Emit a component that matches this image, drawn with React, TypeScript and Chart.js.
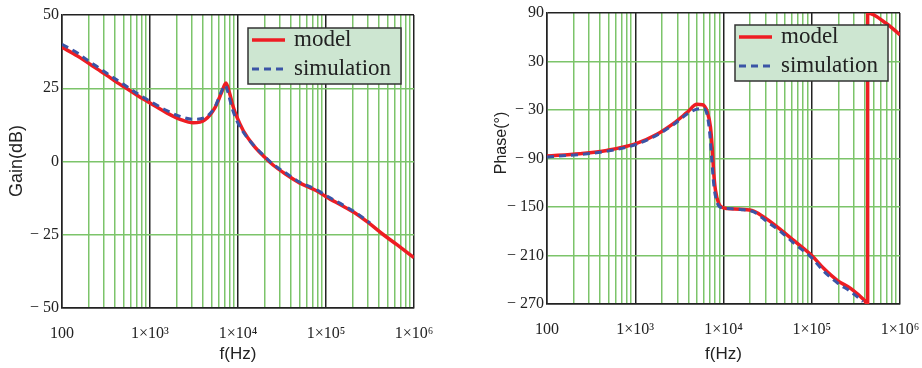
import React, { useEffect, useRef } from "react";
import { Chart, registerables } from "chart.js";
Chart.register(...registerables);

// ---------- data ----------
const gainModelFreq = [100, 150, 190, 250, 320, 420, 545, 750, 1000, 1550, 2200, 3100, 4200, 5500, 6500, 7300, 8000, 8800, 9700, 11500, 15000, 20000, 25000, 36000, 50000, 78000, 100000, 155000, 222000, 316000, 450000, 640000, 1000000];
const gainModelDb = [39, 36, 34, 31.6, 29.5, 27, 24.9, 22.2, 20, 16.6, 14.4, 13.2, 14.2, 18.5, 23.5, 26.8, 23.5, 18.8, 15.2, 10.5, 5.5, 1.5, -1.2, -4.6, -7.3, -10, -12, -15.2, -17.9, -21.3, -25, -28.4, -32.8];

const gainSimFreq = [100, 150, 190, 250, 320, 545, 750, 1000, 1550, 2200, 3100, 4200, 5500, 6500, 7100, 7700, 8500, 9500, 11500, 15000, 20000, 25000, 36000, 50000, 78000, 100000, 155000, 222000, 316000];
const gainSimDb = [40, 37, 34.8, 32.4, 30.2, 25.6, 22.8, 20.6, 17.4, 15.4, 14.4, 15, 18.8, 24, 26, 23.5, 18.5, 14.5, 10, 5.6, 1.8, -0.9, -4.2, -7, -9.6, -11.6, -14.8, -17.6, -21];

const phaseModelFreq = [100, 235, 475, 1000, 1760, 2720, 3870, 5000, 5800, 6530, 7110, 7440, 7760, 8110, 8850, 9930, 11000, 15500, 22000, 31000, 44000, 63000, 100000, 138000, 196000, 278000, 395000, 430000, 430000, 700000, 1000000];
const phaseModelDeg = [-87, -84, -80, -72, -60, -46.5, -33, -23, -23.5, -32, -50.7, -75.5, -108.6, -129.3, -146, -151, -152, -152.8, -155, -165, -177.6, -191.7, -210, -226.5, -241, -251, -265.5, -270, 90, 77, 63];

const phaseSimFreq = [100, 235, 475, 1000, 1760, 2720, 3870, 5000, 5800, 6500, 7000, 7400, 7800, 8500, 9500, 11000, 15500, 22000, 31000, 44000, 63000, 100000, 138000, 196000, 278000, 380000];
const phaseSimDeg = [-88, -85, -81, -73, -61, -48, -35, -29, -28, -35, -60, -95, -125, -145, -151, -152, -153, -156, -168, -180, -195, -213, -230, -244, -255, -267];

const decadeValues = [100, 1000, 10000, 100000, 1000000];
const decadeLabels = ["100", "1×10³", "1×10⁴", "1×10⁵", "1×10⁶"];
const minorMultipliers = [2, 3, 4, 5, 6, 7, 8, 9];

const gainTicks = { min: -50, max: 50, step: 25 };
const phaseTicks = { min: -270, max: 90, step: 60 };

// ---------- styles ----------
const SERIF = '"Liberation Serif", "Times New Roman", serif';
const SANS = '"Liberation Sans", Arial, sans-serif';
const DARK = "#222222";
const GREEN = "#7cc46a";
const RED = "#ee1d23";
const BLUE = "#3b54a6";

const xTickValues: number[] = [];
decadeValues.forEach((d, i) => {
  xTickValues.push(d);
  if (i < decadeValues.length - 1) minorMultipliers.forEach((m) => xTickValues.push(d * m));
});

const pts = (xs: number[], ys: number[]) => xs.map((x, i) => ({ x, y: ys[i] }));
const fmtY = (v: number) => (v < 0 ? "− " + Math.abs(v) : String(v));

type Cfg = {
  width: number;
  height: number;
  padTop: number;
  padRight: number;
  yAxisW: number;
  xAxisH: number;
  yTitle: string;
  yTitleX: number;
  yTitleY: number;
  yTitleSize: number;
  legendDx: number;
  legendDy: number;
  ticks: { min: number; max: number; step: number };
  modelF: number[];
  modelV: number[];
  simF: number[];
  simV: number[];
};

function overlayPlugin(cfg: Cfg) {
  return {
    id: "overlay",
    afterDraw(chart: any) {
      const { ctx, chartArea } = chart;
      ctx.save();
      ctx.translate(cfg.yTitleX, cfg.yTitleY);
      ctx.rotate(-Math.PI / 2);
      ctx.font = `${cfg.yTitleSize}px ${SANS}`;
      ctx.fillStyle = DARK;
      ctx.textAlign = "center";
      ctx.textBaseline = "middle";
      ctx.fillText(cfg.yTitle, 0, 0);
      ctx.restore();

      const bx = chartArea.left + cfg.legendDx;
      const by = chartArea.top + cfg.legendDy;
      const bw = 153;
      const bh = 56;
      ctx.save();
      ctx.fillStyle = "#cde6d1";
      ctx.fillRect(bx, by, bw, bh);
      ctx.strokeStyle = "#333333";
      ctx.lineWidth = 1.5;
      ctx.strokeRect(bx, by, bw, bh);
      const order = ["model", "simulation"];
      const rows = [12, 41];
      order.forEach((label, i) => {
        const ds = chart.data.datasets.find((d: any) => d.label === label);
        if (!ds) return;
        const y = by + rows[i];
        ctx.beginPath();
        ctx.strokeStyle = ds.borderColor;
        ctx.lineWidth = ds.borderWidth;
        ctx.setLineDash(ds.borderDash || []);
        ctx.moveTo(bx + 4, y);
        ctx.lineTo(bx + 37, y);
        ctx.stroke();
        ctx.setLineDash([]);
        ctx.font = `23px ${SERIF}`;
        ctx.fillStyle = DARK;
        ctx.textAlign = "left";
        ctx.textBaseline = "middle";
        ctx.fillText(label, bx + 46, y);
      });
      ctx.restore();
    },
  };
}

function BodeChart({ cfg }: { cfg: Cfg }) {
  const ref = useRef<HTMLCanvasElement>(null);
  useEffect(() => {
    if (!ref.current) return;
    const t = cfg.ticks;
    const chart = new Chart(ref.current, {
      type: "line",
      data: {
        datasets: [
          {
            label: "simulation",
            data: pts(cfg.simF, cfg.simV),
            borderColor: BLUE,
            borderWidth: 3,
            borderDash: [7, 5],
            pointRadius: 0,
            cubicInterpolationMode: "monotone",
            fill: false,
            order: 0,
          },
          {
            label: "model",
            data: pts(cfg.modelF, cfg.modelV),
            borderColor: RED,
            borderWidth: 3.5,
            pointRadius: 0,
            cubicInterpolationMode: "monotone",
            fill: false,
            order: 1,
          },
        ],
      } as any,
      options: {
        animation: false,
        responsive: false,
        devicePixelRatio: 1,
        layout: { padding: { left: 0, top: cfg.padTop, right: cfg.padRight, bottom: 0 } },
        plugins: { legend: { display: false }, tooltip: { enabled: false } },
        scales: {
          x: {
            type: "logarithmic",
            min: 100,
            max: 1000000,
            afterBuildTicks: (s: any) => {
              s.ticks = xTickValues.map((v) => ({ value: v }));
            },
            afterFit: (s: any) => {
              s.height = cfg.xAxisH;
              s.paddingLeft = 0;
              s.paddingRight = 0;
            },
            ticks: {
              autoSkip: false,
              maxRotation: 0,
              minRotation: 0,
              padding: 16,
              color: DARK,
              font: { family: SERIF, size: 16 },
              callback: (v: any) => {
                const i = decadeValues.indexOf(Number(v));
                return i >= 0 ? decadeLabels[i] : "";
              },
            },
            grid: {
              drawTicks: false,
              lineWidth: 1.5,
              color: (c: any) => (decadeValues.includes(c.tick?.value) ? DARK : GREEN),
            },
            border: { color: DARK, width: 1.5 },
            title: {
              display: true,
              text: "f(Hz)",
              color: DARK,
              font: { family: SANS, size: 17 },
              padding: { top: 0, bottom: 3 },
            },
          },
          y: {
            type: "linear",
            min: t.min,
            max: t.max,
            afterFit: (s: any) => {
              s.width = cfg.yAxisW;
              s.paddingTop = 0;
              s.paddingBottom = 0;
            },
            ticks: {
              stepSize: t.step,
              padding: 3,
              color: DARK,
              font: { family: SERIF, size: 16 },
              callback: (v: any) => fmtY(Number(v)),
            },
            grid: {
              drawTicks: false,
              lineWidth: 1.5,
              color: (c: any) => (c.tick && (c.tick.value === t.min || c.tick.value === t.max) ? DARK : GREEN),
            },
            border: { color: DARK, width: 1.5 },
          },
        },
      } as any,
      plugins: [overlayPlugin(cfg)],
    });
    return () => chart.destroy();
  }, [cfg]);
  return <canvas ref={ref} width={cfg.width} height={cfg.height} style={{ width: cfg.width, height: cfg.height, display: "block" }} />;
}

const gainCfg: Cfg = {
  width: 460,
  height: 368,
  padTop: 15,
  padRight: 46,
  yAxisW: 62,
  xAxisH: 60,
  yTitle: "Gain(dB)",
  yTitleX: 17,
  yTitleY: 161,
  yTitleSize: 18,
  legendDx: 186,
  legendDy: 13,
  ticks: gainTicks,
  modelF: gainModelFreq,
  modelV: gainModelDb,
  simF: gainSimFreq,
  simV: gainSimDb,
};

const phaseCfg: Cfg = {
  width: 462,
  height: 368,
  padTop: 13,
  padRight: 22,
  yAxisW: 87,
  xAxisH: 64,
  yTitle: "Phase(°)",
  yTitleX: 42,
  yTitleY: 143,
  yTitleSize: 16,
  legendDx: 188,
  legendDy: 12,
  ticks: phaseTicks,
  modelF: phaseModelFreq,
  modelV: phaseModelDeg,
  simF: phaseSimFreq,
  simV: phaseSimDeg,
};

export default function App() {
  return (
    <div style={{ position: "fixed", left: 0, top: 0, width: 922, height: 368, display: "flex", background: "#ffffff" }}>
      <BodeChart cfg={gainCfg} />
      <BodeChart cfg={phaseCfg} />
    </div>
  );
}
